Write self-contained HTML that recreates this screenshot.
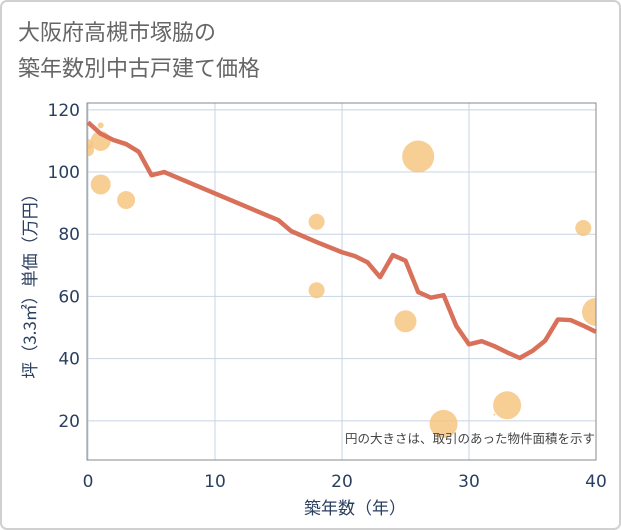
<!DOCTYPE html>
<html><head><meta charset="utf-8"><style>
body{margin:0;background:#fff;}
svg{display:block;font-family:"DejaVu Sans","Noto Sans CJK JP",sans-serif;}
.cjk{font-family:"Noto Sans CJK JP",sans-serif;}
</style></head><body>
<svg id="chart" width="621" height="530">
<rect x="1" y="1" width="619" height="528" rx="6" fill="#fff" stroke="#d0d0d0" stroke-width="2"/>
<text class="cjk" x="18" y="40" font-size="22" fill="#666">大阪府高槻市塚脇の</text>
<text class="cjk" x="18" y="76" font-size="22" fill="#666">築年数別中古戸建て価格</text>
<g id="grid"></g>
<g id="bubbles"></g>
<g id="line"></g>
<rect x="87" y="103" width="509" height="357" fill="none" stroke="#888" stroke-width="1"/>
<g id="axes"></g>
<text class="cjk" x="595" y="443" font-size="12.5" fill="#444" text-anchor="end">円の大きさは、取引のあった物件面積を示す</text>
<text class="cjk" x="355" y="514" font-size="17" fill="#2a3f5f" text-anchor="middle">築年数（年）</text>
<text class="cjk" transform="translate(36,282) rotate(-90)" font-size="17" fill="#2a3f5f" text-anchor="middle">坪（3.3㎡）単価（万円）</text>
</svg>
<script>
const lineYears=[0,1,2,3,4,5,6,15,16,18,20,21,22,23,24,25,26,27,28,29,30,31,32,33,34,35,36,37,38,39,40];
const linePrices=[116,112.3,110.3,109,106.5,99,100,84.5,81,77.5,74.2,73,71,66.2,73.3,71.5,61.4,59.6,60.4,50.5,44.6,45.6,44,42,40.2,42.5,45.8,52.6,52.4,50.6,48.6];
const bubbleYears=[0,0,1,1,1,3,18,18,25,26,28,32,33,39,40];
const bubblePrices=[107,109,110,115,96,91,84,62,52,105,19,22,25,82,55];
const bubbleAreas=[36,25,100,9,100,81,64,64,121,256,196,1,196,64,196];
const xTicks=[0,10,20,30,40];
const yTicks=[20,40,60,80,100,120];
const NS="http://www.w3.org/2000/svg";
const X0=87,X1=596,Y0=103,Y1=460,xMin=0,xMax=40,yMin=7.4,yMax=122.2;
const sx=v=>X0+1+(v-xMin)/(xMax-xMin)*(X1-X0-1);
const sy=v=>Y1-(v-yMin)/(yMax-yMin)*(Y1-Y0);
function mk(t,a,p){const e=document.createElementNS(NS,t);for(const k in a)e.setAttribute(k,a[k]);p.appendChild(e);return e;}
const grid=document.getElementById('grid'),axes=document.getElementById('axes');
xTicks.forEach(t=>{
 const l=mk('line',{x1:sx(t),x2:sx(t),y1:Y0,y2:Y1,stroke:'#c8d4e3','stroke-width':1},grid);
 
 
 const tx=mk('text',{x:sx(t),y:487,'font-size':17,fill:'#2a3f5f','text-anchor':'middle'},axes);
 tx.textContent=t;
 
 
});
yTicks.forEach(t=>{
 const l=mk('line',{x1:X0,x2:X1,y1:sy(t),y2:sy(t),stroke:'#c8d4e3','stroke-width':1},grid);
 
 
 const tx=mk('text',{x:80,y:sy(t)+6,'font-size':17,fill:'#2a3f5f','text-anchor':'end'},axes);
 tx.textContent=t;
 
 
});
const cp=mk('clipPath',{id:'clip'},document.getElementById('chart'));
mk('rect',{x:X0,y:Y0,width:X1-X0,height:Y1-Y0},cp);
const bg=document.getElementById('bubbles');bg.setAttribute('clip-path','url(#clip)');
bubbleYears.forEach((y,i)=>{
 const c=mk('circle',{cx:sx(y),cy:sy(bubblePrices[i]),r:Math.sqrt(bubbleAreas[i]),fill:'#f5c37a','fill-opacity':0.8},bg);
 
 
});
const lg=document.getElementById('line');
const p=mk('polyline',{points:lineYears.map((y,i)=>sx(y)+','+sy(linePrices[i])).join(' '),fill:'none',stroke:'#d9705a','stroke-width':4.5,'stroke-linejoin':'round'},lg);


</script>
</body></html>
